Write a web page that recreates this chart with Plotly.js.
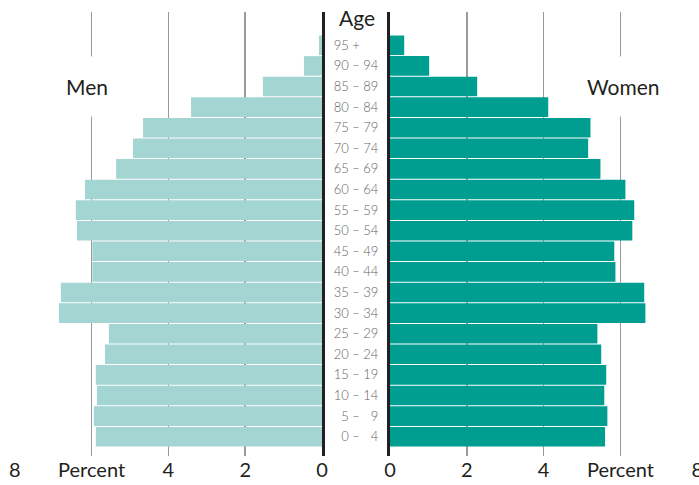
<!DOCTYPE html>
<html>
<head>
<meta charset="utf-8">
<script src="https://cdn.plot.ly/plotly-3.0.1.min.js"></script>
<style>html,body{margin:0;padding:0;background:#fff;}#chart{width:699px;height:485px;}</style>
</head>
<body>
<div id="chart"></div>
<script>
// Age groups, bottom to top
const ageGroups = ["0 – \u20074", "5 – \u20079", "10 – 14", "15 – 19", "20 – 24", "25 – 29", "30 – 34", "35 – 39",
  "40 – 44", "45 – 49", "50 – 54", "55 – 59", "60 – 64", "65 – 69", "70 – 74", "75 – 79", "80 – 84",
  "85 – 89", "90 – 94", "95 +\u2007\u2007\u00a0"];
// Percent of population
const menValues   = [5.89, 5.94, 5.86, 5.89, 5.65, 5.55, 6.85, 6.80, 5.98, 5.98, 6.38, 6.41, 6.17, 5.36, 4.92, 4.66, 3.41, 1.54, 0.47, 0.08];
const womenValues = [5.60, 5.66, 5.58, 5.63, 5.50, 5.40, 6.65, 6.62, 5.87, 5.84, 6.31, 6.36, 6.13, 5.48, 5.16, 5.22, 4.12, 2.27, 1.02, 0.37];
const xTickVals = [0, 2, 4, 6, 8];
const xTickText = ["0", "2", "4", "Percent", "8"];

const FONT = "Lato, 'Open Sans', sans-serif";
const DARK = "#231f20";
const GRID = "#9a9a9a";

const traces = [
  { type: "bar", orientation: "h", name: "Men", x: menValues, y: ageGroups,
    xaxis: "x", yaxis: "y", marker: { color: "#a3d5d3" }, hoverinfo: "x+y" },
  { type: "bar", orientation: "h", name: "Women", x: womenValues, y: ageGroups,
    xaxis: "x2", yaxis: "y2", marker: { color: "#009e90" }, hoverinfo: "x+y" }
];

const yRange = [-0.937, 20.617];
const xCommon = {
  showgrid: true, gridcolor: GRID, gridwidth: 1.5, zeroline: false, showline: false,
  ticks: "", tickvals: xTickVals, ticktext: xTickText, ticklabeloverflow: "allow",
  tickfont: { family: FONT, size: 20, color: DARK }, fixedrange: true
};

const layout = {
  width: 699, height: 485,
  margin: { l: 14, r: 1, t: 12, b: 29 },
  paper_bgcolor: "#fff", plot_bgcolor: "#fff",
  showlegend: false, bargap: 0.05,
  xaxis: Object.assign({}, xCommon, { domain: [0, 0.4503], range: [8.02, 0], anchor: "y" }),
  xaxis2: Object.assign({}, xCommon, { domain: [0.5497, 1], range: [0, 8.02], anchor: "y2" }),
  yaxis: { type: "category", categoryorder: "array", categoryarray: ageGroups, range: yRange,
    anchor: "x", side: "right", showline: true, linecolor: DARK, linewidth: 3, layer: "above traces",
    showgrid: false, zeroline: false, showticklabels: false, ticks: "", fixedrange: true },
  yaxis2: { type: "category", categoryorder: "array", categoryarray: ageGroups, range: yRange,
    anchor: "x2", side: "left", showline: true, linecolor: DARK, linewidth: 3, layer: "above traces",
    showgrid: false, zeroline: false, ticks: "", ticklabelstandoff: 6,
    tickfont: { family: FONT, size: 13, color: "#636466", weight: 300 }, fixedrange: true },
  annotations: [
    { text: "Men", xref: "x", yref: "y", x: 6.12, y: "85 – 89", showarrow: false,
      font: { family: FONT, size: 21, color: DARK }, bgcolor: "#fff", borderpad: 17 },
    { text: "Women", xref: "x2", yref: "y2", x: 6.08, y: "85 – 89", showarrow: false,
      font: { family: FONT, size: 21, color: DARK }, bgcolor: "#fff", borderpad: 17 },
    { text: "Age", xref: "paper", yref: "paper", x: 0.5015, y: 0.9865, xanchor: "center", yanchor: "middle",
      showarrow: false, font: { family: FONT, size: 21, color: DARK } }
  ]
};

Plotly.newPlot("chart", traces, layout, { displayModeBar: false, staticPlot: true });
</script>
</body>
</html>
